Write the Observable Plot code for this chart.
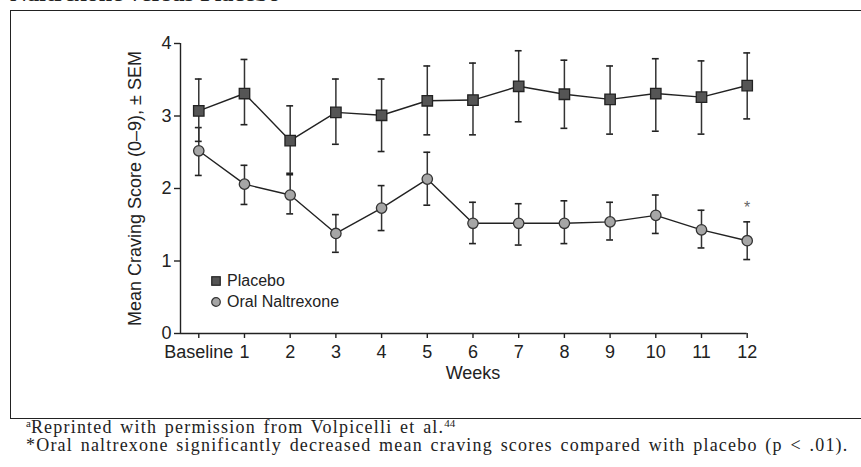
<!DOCTYPE html>
<html><head><meta charset="utf-8">
<script src="https://cdn.jsdelivr.net/npm/d3@7"></script>
<script src="https://cdn.jsdelivr.net/npm/@observablehq/plot@0.6"></script>
<style>
body{margin:0;background:#fff;}
#fig{position:relative;width:861px;height:467px;overflow:hidden;font-family:"Liberation Sans",Arial,sans-serif;color:#222;background:#fff;}
#title{position:absolute;left:10px;top:-19px;font-family:"Liberation Serif","Times New Roman",serif;font-weight:bold;font-size:24px;line-height:24px;white-space:nowrap;color:#222;}
#box{position:absolute;left:10px;top:10px;width:851px;height:409px;box-sizing:border-box;border-left:1.5px solid #222;border-top:1.5px solid #222;border-bottom:1.5px solid #222;}
#chart{position:absolute;left:0;top:0;}
#legend{position:absolute;left:211px;top:271px;font-size:16px;line-height:20.5px;color:#222;}
#legend div{display:flex;align-items:center;white-space:nowrap;}
#legend svg{margin-right:6px;}
#notes{position:absolute;left:26px;top:418px;font-family:"Liberation Serif","Times New Roman",serif;font-size:18px;letter-spacing:1.2px;word-spacing:2px;line-height:18.4px;color:#222;white-space:nowrap;}
#notes div{height:18.4px;}
#notes sup{font-size:11px;letter-spacing:0;line-height:0;vertical-align:6px;}
</style></head><body>
<div id="fig">
  <div id="title">Naltrexone versus Placebo</div>
  <div id="box"></div>
  <div id="chart"></div>
  <div id="legend"></div>
  <div id="notes"></div>
</div>
<script>
// ---- data ----
const weeks = [0,1,2,3,4,5,6,7,8,9,10,11,12];
const weekLabels = ["Baseline","1","2","3","4","5","6","7","8","9","10","11","12"];
const yTicks = [0,1,2,3,4];
const placeboMean  = [3.07,3.31,2.66,3.05,3.01,3.21,3.22,3.41,3.30,3.23,3.31,3.26,3.42];
const placeboUpper = [3.51,3.78,3.14,3.51,3.51,3.69,3.73,3.90,3.77,3.69,3.79,3.76,3.87];
const placeboLower = [2.65,2.88,2.21,2.61,2.51,2.74,2.74,2.92,2.83,2.75,2.79,2.75,2.96];
const naltrexoneMean  = [2.52,2.06,1.91,1.38,1.73,2.13,1.52,1.52,1.52,1.54,1.63,1.43,1.28];
const naltrexoneUpper = [2.84,2.32,2.19,1.64,2.04,2.50,1.81,1.79,1.83,1.81,1.91,1.70,1.54];
const naltrexoneLower = [2.18,1.78,1.65,1.12,1.42,1.77,1.24,1.22,1.24,1.29,1.38,1.18,1.02];
const significantWeeks = [12];
const seriesNames = ["Placebo","Oral Naltrexone"];
const yLabel = "Mean Craving Score (0\u20139), \u00b1 SEM";
const xLabel = "Weeks";

// ---- build tables ----
const placebo = weeks.map((w,i)=>({x:w, mean:placeboMean[i], lo:placeboLower[i], hi:placeboUpper[i]}));
const naltrexone = weeks.map((w,i)=>({x:w, mean:naltrexoneMean[i], lo:naltrexoneLower[i], hi:naltrexoneUpper[i]}));
const sig = naltrexone.filter(d=>significantWeeks.includes(d.x));

const xMin = -0.4, xMax = 12;
const cap = 0.075;
const ink = "#222";

function errorMarks(data){
  return [
    Plot.ruleX(data,{x:"x", y1:"lo", y2:"hi", stroke:"#333", strokeWidth:1.5}),
    Plot.ruleY(data,{y:"hi", x1:d=>d.x-cap, x2:d=>d.x+cap, stroke:"#222", strokeWidth:1.6}),
    Plot.ruleY(data,{y:"lo", x1:d=>d.x-cap, x2:d=>d.x+cap, stroke:"#222", strokeWidth:1.6})
  ];
}

const chart = Plot.plot({
  width: 861, height: 418,
  marginLeft: 180, marginRight: 114.3, marginTop: 43, marginBottom: 85,
  x: {domain:[xMin,xMax], axis:null},
  y: {domain:[0,4], axis:null},
  style: {fontFamily:'"Liberation Sans",Arial,sans-serif', fontSize:"18px", background:"transparent", color:ink, overflow:"visible"},
  marks: [
    Plot.ruleX([xMin],{stroke:ink, strokeWidth:1.4}),
    Plot.ruleY([0],{x1:xMin, x2:xMax, stroke:ink, strokeWidth:1.4}),
    Plot.axisY({ticks:yTicks, tickFormat:d=>String(d), tickSize:6, tickPadding:3, label:null, stroke:ink, fill:ink, strokeWidth:1.4}),
    Plot.axisX({ticks:weeks, tickFormat:d=>weekLabels[d], tickSize:5, tickPadding:7, label:null, stroke:ink, fill:ink, strokeWidth:1.4}),
    Plot.text([xLabel],{x:d3.mean(weeks), frameAnchor:"bottom", dy:45, fill:ink, fontSize:18}),
    Plot.text([yLabel],{frameAnchor:"left", textAnchor:"middle", dx:-45, rotate:-90, fill:ink, fontSize:18}),
    ...errorMarks(naltrexone),
    ...errorMarks(placebo),
    Plot.line(naltrexone,{x:"x", y:"mean", stroke:"#222", strokeWidth:1.4}),
    Plot.line(placebo,{x:"x", y:"mean", stroke:"#222", strokeWidth:1.4}),
    Plot.dot(naltrexone,{x:"x", y:"mean", r:5.2, fill:"#a6a6a6", stroke:"#333", strokeWidth:1.3}),
    Plot.dot(placebo,{x:"x", y:"mean", symbol:"square", r:5.9, fill:"#555", stroke:"#222", strokeWidth:1.3}),
    Plot.text(sig,{x:"x", y:"hi", text:()=>"*", dy:-14, fill:"#666", fontSize:16})
  ]
});
document.getElementById("chart").appendChild(chart);

// ---- legend ----
const legend = document.getElementById("legend");
legend.innerHTML =
  `<div><svg width="10" height="10"><rect x="0.75" y="0.75" width="8.5" height="8.5" fill="#555" stroke="#222" stroke-width="1.2"/></svg>${seriesNames[0]}</div>` +
  `<div><svg width="10" height="10"><circle cx="5" cy="5" r="4.3" fill="#a6a6a6" stroke="#333" stroke-width="1.2"/></svg>${seriesNames[1]}</div>`;

// ---- notes ----
document.getElementById("notes").innerHTML =
  `<div><sup>a</sup>Reprinted with permission from Volpicelli et al.<sup>44</sup></div>` +
  `<div>*Oral naltrexone significantly decreased mean craving scores compared with placebo (p &lt; .01).</div>`;
</script>
</body></html>
